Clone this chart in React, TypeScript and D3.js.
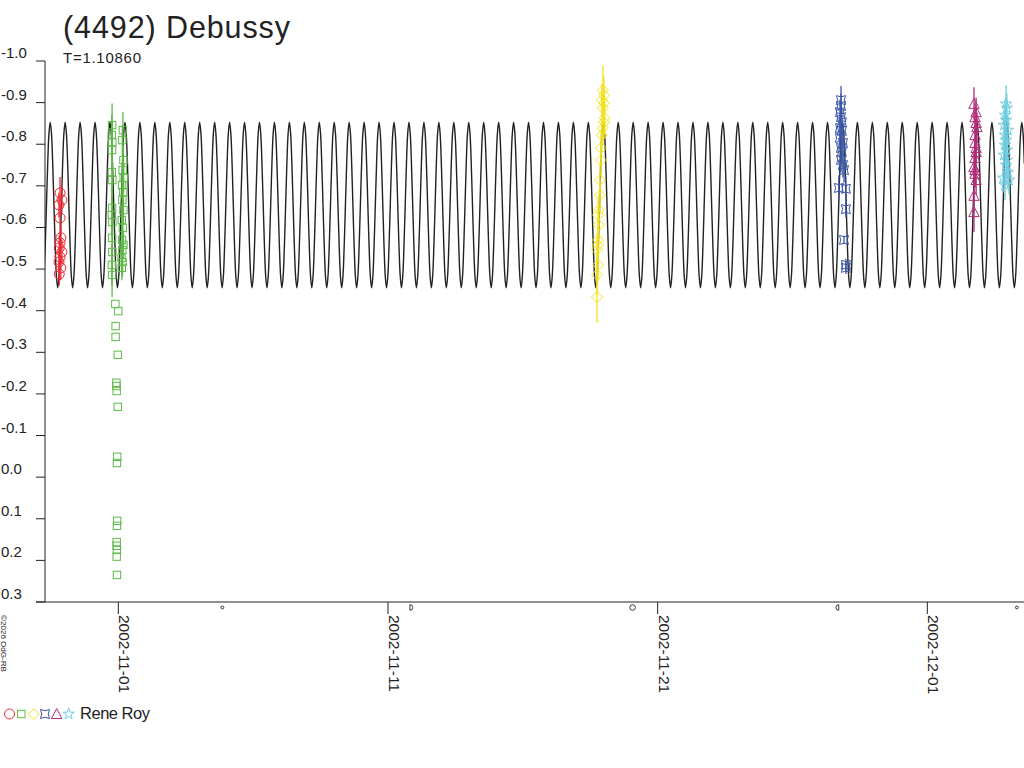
import * as d3 from "d3";
import React from "react";

// ---- chart text ----
const TITLE = "(4492) Debussy";
const PERIOD_LABEL = "T=1.10860";
const OBSERVER = "Rene Roy";
const CREDIT = "©2026 OdG-RB";

// times are days since 2002-11-01 00:00 UT
const ORIGIN = Date.UTC(2002, 10, 1);
const T_START = -2.718;
const T_END = 33.585;

const PERIOD = 1.1086; // days
const EPOCH = -2.525; // a maximum of the fitted curve

// fitted curve over one full period, 24 even phase steps
const foldMags = [
  -0.853, -0.826, -0.754, -0.654, -0.555, -0.482, -0.455, -0.482, -0.555, -0.654, -0.754, -0.826,
  -0.853, -0.826, -0.754, -0.654, -0.555, -0.482, -0.455, -0.482, -0.555, -0.654, -0.754, -0.826,
];

const yTicks = [-1.0, -0.9, -0.8, -0.7, -0.6, -0.5, -0.4, -0.3, -0.2, -0.1, 0.0, 0.1, 0.2, 0.3];
const dateTicks = ["2002-11-01", "2002-11-11", "2002-11-21", "2002-12-01"];

const moonDays = [3.86, 10.87, 19.07, 26.66, 33.32];
const moonKinds = ["new", "first", "full", "last", "new"];

// sessions: [time, mag, error]
const sessionRed: [number, number, number][] = [
  [-2.16, -0.683, 0.038], [-2.09, -0.666, 0.03], [-2.2, -0.654, 0.03], [-2.16, -0.623, 0.03],
  [-2.13, -0.575, 0.03], [-2.16, -0.563, 0.03], [-2.19, -0.551, 0.03], [-2.09, -0.541, 0.03],
  [-2.16, -0.529, 0.03], [-2.2, -0.517, 0.03], [-2.13, -0.503, 0.03], [-2.19, -0.488, 0.028],
];
const sessionGreen: [number, number, number][] = [
  [-0.23, -0.846, 0.052], [-0.24, -0.822, 0.05], [-0.22, -0.805, 0.05], [-0.23, -0.786, 0.05],
  [-0.24, -0.733, 0.05], [-0.22, -0.714, 0.05], [-0.23, -0.647, 0.05], [-0.24, -0.63, 0.05],
  [-0.22, -0.613, 0.05], [-0.23, -0.575, 0.05], [-0.22, -0.541, 0.05], [-0.24, -0.51, 0.05],
  [-0.23, -0.486, 0.053],
  [0.17, -0.834, 0.043], [0.15, -0.81, 0.035], [0.19, -0.762, 0.035], [0.16, -0.738, 0.035],
  [0.2, -0.719, 0.035], [0.14, -0.702, 0.035], [0.18, -0.685, 0.035], [0.15, -0.666, 0.035],
  [0.19, -0.642, 0.035], [0.13, -0.618, 0.035], [0.17, -0.599, 0.035], [0.14, -0.57, 0.035],
  [0.19, -0.558, 0.035], [0.15, -0.546, 0.035], [0.12, -0.527, 0.035], [0.16, -0.517, 0.035],
  [0.13, -0.503, 0.03],
  [-0.11, -0.416, 0], [-0.0, -0.399, 0], [-0.1, -0.363, 0], [-0.1, -0.337, 0],
  [-0.02, -0.294, 0], [-0.07, -0.227, 0], [-0.07, -0.219, 0], [-0.06, -0.207, 0],
  [-0.02, -0.169, 0], [-0.04, -0.049, 0], [-0.05, -0.034, 0], [-0.04, 0.105, 0],
  [-0.05, 0.117, 0], [-0.06, 0.156, 0], [-0.06, 0.165, 0], [-0.05, 0.175, 0],
  [-0.06, 0.191, 0], [-0.05, 0.235, 0],
];
const sessionYellow: [number, number, number][] = [
  [17.97, -0.93, 0.06], [18.01, -0.918, 0.045], [17.93, -0.906, 0.04], [18.01, -0.899, 0.04],
  [17.97, -0.887, 0.04], [18.04, -0.863, 0.04], [18.01, -0.853, 0.04], [17.97, -0.839, 0.04],
  [17.93, -0.822, 0.04], [17.9, -0.791, 0.04], [17.9, -0.762, 0.04], [17.86, -0.714, 0.04],
  [17.86, -0.678, 0.04], [17.82, -0.642, 0.04], [17.79, -0.63, 0.04], [17.82, -0.606, 0.04],
  [17.79, -0.57, 0.04], [17.79, -0.558, 0.04], [17.75, -0.546, 0.04], [17.79, -0.51, 0.04],
  [17.75, -0.486, 0.045], [17.75, -0.433, 0.062],
];
const sessionBlue: [number, number, number][] = [
  [26.8, -0.906, 0.034], [26.8, -0.892, 0.03], [26.76, -0.877, 0.03], [26.8, -0.865, 0.03],
  [26.83, -0.853, 0.03], [26.76, -0.839, 0.03], [26.83, -0.832, 0.03], [26.76, -0.815, 0.03],
  [26.87, -0.803, 0.03], [26.8, -0.791, 0.03], [26.83, -0.781, 0.03], [26.8, -0.762, 0.03],
  [26.87, -0.75, 0.03], [26.91, -0.738, 0.03], [26.72, -0.695, 0.03], [26.98, -0.693, 0.03],
  [26.98, -0.644, 0.02], [26.91, -0.57, 0.01], [26.98, -0.51, 0.015], [26.98, -0.503, 0.015],
];
const sessionMagenta: [number, number, number][] = [
  [31.73, -0.897, 0.04], [31.81, -0.877, 0.035], [31.77, -0.865, 0.035], [31.81, -0.851, 0.035],
  [31.84, -0.841, 0.035], [31.77, -0.822, 0.035], [31.77, -0.803, 0.035], [31.81, -0.791, 0.035],
  [31.81, -0.781, 0.035], [31.77, -0.767, 0.035], [31.73, -0.745, 0.035], [31.77, -0.738, 0.035],
  [31.77, -0.729, 0.035], [31.81, -0.714, 0.035], [31.73, -0.676, 0.04], [31.73, -0.637, 0.048],
];
const sessionCyan: [number, number, number][] = [
  [32.92, -0.897, 0.045], [32.95, -0.887, 0.035], [32.88, -0.87, 0.035], [32.92, -0.858, 0.035],
  [32.84, -0.846, 0.035], [32.99, -0.834, 0.035], [32.88, -0.822, 0.035], [32.92, -0.81, 0.035],
  [32.88, -0.798, 0.035], [32.95, -0.786, 0.035], [32.84, -0.774, 0.035], [32.95, -0.762, 0.035],
  [32.92, -0.75, 0.035], [32.99, -0.733, 0.035], [32.81, -0.719, 0.035], [33.03, -0.714, 0.035],
  [32.88, -0.702, 0.036],
];

type Marker = "circle" | "square" | "diamond" | "quad" | "triangle" | "star";

const sessions: { data: [number, number, number][]; color: string; marker: Marker }[] = [
  { data: sessionRed, color: "#ee2a33", marker: "circle" },
  { data: sessionGreen, color: "#5dba47", marker: "square" },
  { data: sessionYellow, color: "#f2e21c", marker: "diamond" },
  { data: sessionBlue, color: "#3a56a6", marker: "quad" },
  { data: sessionMagenta, color: "#b32c79", marker: "triangle" },
  { data: sessionCyan, color: "#6dcde0", marker: "star" },
];

const INK = "#222";
const FONT = "'Liberation Sans', Arial, sans-serif";

const starPath = d3.symbol().type(d3.symbolStar).size(40)() || "";

const Symbol = ({ kind, x, y, color }: { kind: Marker; x: number; y: number; color: string }) => {
  const common = { fill: "none", stroke: color, strokeWidth: 1 };
  const t = `translate(${x},${y})`;
  switch (kind) {
    case "circle":
      return <circle cx={x} cy={y} r={5} {...common} />;
    case "square":
      return <rect x={x - 3.7} y={y - 3.7} width={7.4} height={7.4} {...common} />;
    case "diamond":
      return <path transform={t} d="M0,-5.5L5.5,0L0,5.5L-5.5,0Z" {...common} />;
    case "quad":
      return <path transform={t} d="M-4.5,-4.5Q0,-2 4.5,-4.5Q2,0 4.5,4.5Q0,2 -4.5,4.5Q-2,0 -4.5,-4.5Z" {...common} />;
    case "triangle":
      return <path transform={t} d="M0,-5.5L5.2,4.5L-5.2,4.5Z" {...common} />;
    default:
      return <path transform={t} d={starPath} {...common} />;
  }
};

const MoonGlyph = ({ kind, x, y }: { kind: string; x: number; y: number }) => {
  const common = { fill: "none", stroke: INK, strokeWidth: 0.9 };
  if (kind === "new") return <circle cx={x} cy={y} r={1.4} {...common} />;
  if (kind === "full") return <circle cx={x} cy={y} r={2.8} {...common} />;
  if (kind === "first")
    return <path transform={`translate(${x},${y})`} d="M-1.5,-2.8L-1.5,2.8M-1.5,-2.8A2.8,2.8 0 0 1 -1.5,2.8" {...common} />;
  return <path transform={`translate(${x},${y})`} d="M1.5,-2.8L1.5,2.8M1.5,-2.8A2.8,2.8 0 0 0 1.5,2.8" {...common} />;
};

const day = (t: number) => new Date(ORIGIN + t * 864e5);

const App = () => {
  const left = 45;
  const right = 1024;
  const top = 61;
  const bottom = 602;

  const xScale = d3.scaleUtc().domain([day(T_START), day(T_END)]).range([left, right]);
  const yScale = d3.scaleLinear().domain([-1.0, 0.3]).range([top, bottom]);
  const xt = (t: number) => xScale(day(t));

  // repeat the folded curve over the time span
  const step = PERIOD / foldMags.length;
  const k0 = Math.floor((T_START - EPOCH) / step);
  const k1 = Math.ceil((T_END - EPOCH) / step);
  const curvePts: [number, number][] = [];
  for (let k = k0; k <= k1; k++) {
    const idx = ((k % foldMags.length) + foldMags.length) % foldMags.length;
    curvePts.push([xt(EPOCH + k * step), yScale(foldMags[idx])]);
  }
  const curvePath = d3.line().curve(d3.curveCatmullRom)(curvePts) || "";

  const legendMarkers: Marker[] = sessions.map((s) => s.marker);
  const legendX = [9.5, 21.3, 33.8, 45, 56.7, 68.7];

  return (
    <svg
      width={1024}
      height={768}
      style={{ position: "absolute", left: 0, top: 0, background: "#fff" }}
      fontFamily={FONT}
    >
      <defs>
        <clipPath id="plot">
          <rect x={left} y={0} width={right - left} height={bottom} />
        </clipPath>
      </defs>

      <text x={63} y={37.5} fontSize={30.5} fill={INK} textLength={227} lengthAdjust="spacing">
        {TITLE}
      </text>
      <text x={63} y={63} fontSize={15} fill={INK} textLength={78} lengthAdjust="spacing">
        {PERIOD_LABEL}
      </text>

      {/* y axis */}
      <line x1={left} x2={left} y1={top} y2={bottom} stroke={INK} strokeWidth={1} />
      {yTicks.map((v) => (
        <g key={v}>
          <line x1={36} x2={left} y1={yScale(v)} y2={yScale(v)} stroke={INK} strokeWidth={1} />
          <text x={1} y={yScale(v) - 3} fontSize={15} fill={INK}>
            {Math.abs(v) < 1e-9 ? "0.0" : v.toFixed(1)}
          </text>
        </g>
      ))}

      {/* x axis */}
      <line x1={36} x2={right} y1={bottom} y2={bottom} stroke={INK} strokeWidth={1} />
      {dateTicks.map((s) => {
        const x = xScale(new Date(s + "T00:00:00Z"));
        return (
          <g key={s}>
            <line x1={x} x2={x} y1={bottom} y2={bottom + 12} stroke={INK} strokeWidth={1} />
            <text transform={`translate(${x + 1},${bottom + 13}) rotate(90)`} fontSize={15.5} fill={INK}>
              {s}
            </text>
          </g>
        );
      })}
      {moonDays.map((t, i) => (
        <MoonGlyph key={i} kind={moonKinds[i]} x={xt(t)} y={607.5} />
      ))}

      <text transform="translate(1,615) rotate(90)" fontSize={7.5} fill={INK} textLength={57} lengthAdjust="spacingAndGlyphs">
        {CREDIT}
      </text>

      {/* fitted curve */}
      <g clipPath="url(#plot)">
        <path d={curvePath} fill="none" stroke={INK} strokeWidth={1.4} />
      </g>

      {/* observations */}
      {sessions.map((s, si) => (
        <g key={si}>
          {s.data.map(([t, m, e], i) =>
            e > 0 ? (
              <line
                key={"e" + i}
                x1={xt(t)}
                x2={xt(t)}
                y1={yScale(m - e)}
                y2={yScale(m + e)}
                stroke={s.color}
                strokeWidth={1.3}
              />
            ) : null
          )}
          {s.data.map(([t, m], i) => (
            <Symbol key={i} kind={s.marker} x={xt(t)} y={yScale(m)} color={s.color} />
          ))}
        </g>
      ))}

      {/* legend */}
      {legendMarkers.map((mk, i) => (
        <Symbol key={mk} kind={mk} x={legendX[i]} y={714} color={sessions[i].color} />
      ))}
      <text x={80} y={718.5} fontSize={16.5} fill={INK} textLength={70} lengthAdjust="spacing">
        {OBSERVER}
      </text>
    </svg>
  );
};

export default App;
